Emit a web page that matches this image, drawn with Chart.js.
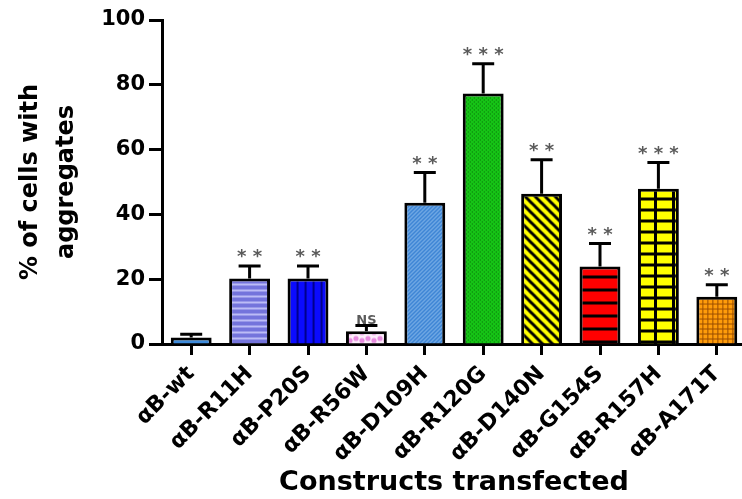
<!DOCTYPE html>
<html>
<head>
<meta charset="utf-8">
<script src="https://cdn.jsdelivr.net/npm/chart.js@4"></script>
<style>
  html, body { margin: 0; padding: 0; background: #fff; overflow: hidden; }
  #box { width: 752px; height: 499px; }
</style>
</head>
<body>
<div id="box"><canvas id="grafico" width="752" height="499"></canvas></div>
<script>
const labels = ['αB-wt', 'αB-R11H', 'αB-P20S', 'αB-R56W', 'αB-D109H', 'αB-R120G', 'αB-D140N', 'αB-G154S', 'αB-R157H', 'αB-A171T'];
const means = [2, 20.2, 20.2, 3.9, 43.6, 77.3, 46.4, 23.9, 47.9, 14.6];
const sems = [1, 3.9, 3.9, 1.8, 9.3, 9.2, 10.5, 7.1, 8.1, 3.7];
const marks = ['', '**', '**', 'NS', '**', '***', '**', '**', '***', '**'];
const yTicks = [0, 20, 40, 60, 80, 100];

const FONT = "'DejaVu Sans', sans-serif";

function pat(w, h, draw) {
    const c = document.createElement('canvas');
    c.width = w; c.height = h;
    const g = c.getContext('2d');
    draw(g, w, h);
    return g.createPattern(c, 'repeat');
}

// fills, one per bar
const fills = [
    '#3d8bdc',
    pat(6, 6, (g, w, h) => { g.fillStyle = '#7474dc'; g.fillRect(0, 0, w, h); g.fillStyle = '#bcbcf6'; g.fillRect(0, 0, w, 2); }),
    pat(8, 8, (g, w, h) => { g.fillStyle = '#0b0bff'; g.fillRect(0, 0, w, h); g.fillStyle = '#00008c'; g.fillRect(0, 0, 2, h); }),
    pat(12, 8, (g, w, h) => {
        g.fillStyle = '#fdeefb'; g.fillRect(0, 0, w, h);
        g.fillStyle = '#e68ade';
        g.beginPath(); g.arc(3, 5, 2.6, 0, Math.PI * 2); g.arc(9, 3, 2.6, 0, Math.PI * 2); g.fill();
    }),
    pat(4, 4, (g, w, h) => {
        g.fillStyle = '#3f86d6'; g.fillRect(0, 0, w, h);
        g.fillStyle = '#9cc6f0'; g.fillRect(0, 3, 1, 1); g.fillRect(1, 2, 1, 1); g.fillRect(2, 1, 1, 1); g.fillRect(3, 0, 1, 1);
    }),
    pat(4, 4, (g, w, h) => {
        g.fillStyle = '#16c416'; g.fillRect(0, 0, w, h);
        g.fillStyle = '#066a06'; g.fillRect(0, 0, 1, 1); g.fillRect(2, 2, 1, 1);
    }),
    pat(10, 10, (g, w, h) => {
        g.fillStyle = '#ffff00'; g.fillRect(0, 0, w, h);
        g.strokeStyle = '#000'; g.lineWidth = 3;
        for (let k = -1; k <= 1; k++) { g.beginPath(); g.moveTo(k * 10 - 2, -2); g.lineTo(k * 10 + 12, 12); g.stroke(); }
    }),
    pat(4, 13, (g, w, h) => { g.fillStyle = '#ff0000'; g.fillRect(0, 0, w, h); g.fillStyle = '#000'; g.fillRect(0, 10, w, 3); }),
    pat(18, 11, (g, w, h) => { g.fillStyle = '#000'; g.fillRect(0, 0, w, h); g.fillStyle = '#ffff00'; g.fillRect(0, 0, 15, 8); }),
    pat(5, 5, (g, w, h) => {
        g.fillStyle = '#ff9c0a'; g.fillRect(0, 0, w, h);
        g.fillStyle = '#9a4c00'; g.fillRect(0, 0, w, 1); g.fillRect(0, 0, 1, h);
    })
];

// line up each pattern with its own bar
const alignPatterns = {
    id: 'alignPatterns',
    beforeDatasetsDraw(chart) {
        chart.getDatasetMeta(0).data.forEach((el, i) => {
            const f = fills[i];
            if (f instanceof CanvasPattern) {
                f.setTransform(new DOMMatrix().translateSelf(el.x - el.width / 2 + 1, el.base));
            }
        });
    }
};

// error bars (mean + SEM) and significance marks
const errorBars = {
    id: 'errorBars',
    afterDatasetsDraw(chart) {
        const ctx = chart.ctx;
        const x = chart.scales.x, y = chart.scales.y;
        ctx.save();
        means.forEach((m, i) => {
            const cx = x.getPixelForValue(i);
            const top = y.getPixelForValue(m);
            const cap = y.getPixelForValue(m + sems[i]);
            ctx.strokeStyle = '#000';
            ctx.lineWidth = 3;
            ctx.beginPath();
            ctx.moveTo(cx, top);
            ctx.lineTo(cx, cap);
            ctx.moveTo(cx - 11, cap);
            ctx.lineTo(cx + 11, cap);
            ctx.stroke();

            const s = marks[i];
            if (!s) return;
            ctx.fillStyle = '#5a5a5a';
            ctx.textAlign = 'center';
            ctx.textBaseline = 'alphabetic';
            if (s === 'NS') {
                ctx.font = "bold 13px " + FONT;
                ctx.fillText('NS', cx, cap - 2);
            } else {
                ctx.font = "bold 18px " + FONT;
                ctx.fillText(s.split('').join(' '), cx, cap - 4);
            }
        });
        ctx.restore();
    }
};

const ctx = document.getElementById('grafico');

const chart = new Chart(ctx, {
    type: 'bar',
    data: {
        labels: labels,
        datasets: [{
            data: means,
            backgroundColor: fills,
            borderColor: '#000',
            borderWidth: 3,
            categoryPercentage: 1,
            barPercentage: 0.7
        }]
    },
    options: {
        responsive: false,
        animation: false,
        devicePixelRatio: 1,
        layout: { padding: { top: 20, right: 6, left: 0, bottom: 0 } },
        plugins: { legend: { display: false }, tooltip: { enabled: false } },
        scales: {
            x: {
                grid: { display: true, drawOnChartArea: false, offset: false, tickLength: 11, tickWidth: 3, tickColor: '#000' },
                border: { color: '#000', width: 3 },
                ticks: {
                    color: '#000',
                    font: { family: FONT, size: 22, weight: 'bold' },
                    maxRotation: 45, minRotation: 45, padding: 6, autoSkip: false
                },
                title: {
                    display: true, text: 'Constructs transfected', color: '#000',
                    font: { family: FONT, size: 27, weight: 'bold' }, padding: { top: 0, bottom: 0 }
                },
                afterFit(scale) { scale.height = 155; }
            },
            y: {
                min: 0, max: 100,
                afterBuildTicks(scale) { scale.ticks = yTicks.map(v => ({ value: v })); },
                grid: { display: true, drawOnChartArea: false, tickLength: 13, tickWidth: 3, tickColor: '#000' },
                border: { color: '#000', width: 3 },
                ticks: { color: '#000', font: { family: FONT, size: 21, weight: 'bold' }, padding: 4 },
                title: {
                    display: true, text: ['% of cells with', 'aggregates'], color: '#000',
                    font: { family: FONT, size: 24, weight: 'bold', lineHeight: 1.5 }, padding: { top: 13, bottom: 0 }
                },
                afterFit(scale) { scale.width = 162; }
            }
        }
    },
    plugins: [alignPatterns, errorBars]
});
</script>
</body>
</html>
